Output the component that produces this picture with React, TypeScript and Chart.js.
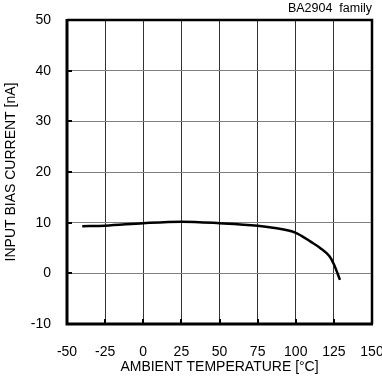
import React, { useEffect, useRef } from "react";
import { Chart, registerables } from "chart.js";

Chart.register(...registerables);

const temperatures = [-40, -25, 0, 25, 50, 75, 85, 100, 110, 116, 122, 125, 129];
const biasCurrent = [9.3, 9.4, 9.9, 10.2, 9.9, 9.4, 9.0, 8.0, 6.2, 5.0, 3.4, 1.8, -1.3];
const xTicks = [-50, -25, 0, 25, 50, 75, 100, 125, 150];
const yTicks = [-10, 0, 10, 20, 30, 40, 50];
const chartLabel = "BA2904  family";
const xTitle = "AMBIENT TEMPERATURE [°C]";
const yTitle = "INPUT BIAS CURRENT [nA]";

const FONT = "'Liberation Sans', Arial, sans-serif";

const framePlugin = {
  id: "frame",
  afterDraw(chart: any) {
    const { ctx, chartArea } = chart;
    const { left, right, top, bottom } = chartArea;
    const xs = chart.scales.x;
    const ys = chart.scales.y;
    ctx.save();
    ctx.strokeStyle = "#000";
    ctx.lineWidth = 2;
    ctx.beginPath();
    yTicks.forEach((v) => {
      const p = Math.round(ys.getPixelForValue(v));
      ctx.moveTo(left, p);
      ctx.lineTo(left + 5, p);
    });
    xTicks.forEach((v) => {
      const p = Math.round(xs.getPixelForValue(v));
      ctx.moveTo(p, bottom);
      ctx.lineTo(p, bottom - 5);
    });
    ctx.stroke();
    ctx.lineWidth = 2.5;
    ctx.beginPath();
    ctx.moveTo(left, top);
    ctx.lineTo(right, top);
    ctx.lineTo(right, bottom);
    ctx.stroke();
    ctx.lineWidth = 3;
    ctx.beginPath();
    ctx.moveTo(left, top - 1);
    ctx.lineTo(left, bottom);
    ctx.lineTo(right + 1, bottom);
    ctx.stroke();
    ctx.restore();
  },
};

export default function App() {
  const ref = useRef<HTMLCanvasElement | null>(null);
  useEffect(() => {
    const canvas = ref.current;
    if (!canvas) return;
    const chart = new Chart(canvas, {
      type: "line",
      data: {
        datasets: [
          {
            data: temperatures.map((t, i) => ({ x: t, y: biasCurrent[i] })),
            borderColor: "#000",
            borderWidth: 2.5,
            pointRadius: 0,
            cubicInterpolationMode: "monotone",
            fill: false,
          },
        ],
      },
      options: {
        animation: false,
        responsive: false,
        maintainAspectRatio: false,
        layout: { padding: { left: 0, right: 10, top: 0, bottom: 0 } },
        plugins: {
          legend: { display: false },
          tooltip: { enabled: false },
          title: {
            display: true,
            text: chartLabel,
            align: "end",
            color: "#000",
            font: { family: FONT, size: 12.5, weight: "normal" },
            padding: { top: 1, bottom: 4 },
          },
        },
        scales: {
          x: {
            type: "linear",
            min: -50,
            max: 150,
            afterBuildTicks: (scale: any) => {
              scale.ticks = xTicks.map((v) => ({ value: v }));
            },
            afterFit: (scale: any) => {
              scale.height = 54;
              scale.paddingLeft = 0;
              scale.paddingRight = 0;
            },
            ticks: {
              color: "#000",
              font: { family: FONT, size: 14 },
              padding: 20,
              maxRotation: 0,
              autoSkip: false,
            },
            grid: { color: "#333", lineWidth: 1, drawTicks: false },
            border: { display: false },
            title: {
              display: true,
              text: xTitle,
              color: "#000",
              font: { family: FONT, size: 14 },
              padding: { top: 0, bottom: 2 },
            },
          },
          y: {
            type: "linear",
            min: -10,
            max: 50,
            afterBuildTicks: (scale: any) => {
              scale.ticks = yTicks.map((v) => ({ value: v }));
            },
            afterFit: (scale: any) => {
              scale.width = 67;
              scale.paddingTop = 0;
              scale.paddingBottom = 0;
            },
            ticks: {
              color: "#000",
              font: { family: FONT, size: 14 },
              padding: 16,
            },
            grid: { color: "#808080", lineWidth: 1, drawTicks: false },
            border: { display: false },
            title: {
              display: true,
              text: yTitle,
              color: "#000",
              font: { family: FONT, size: 14 },
              padding: { top: 3, bottom: 0 },
            },
          },
        },
      },
      plugins: [framePlugin],
    } as any);
    return () => chart.destroy();
  }, []);
  return (
    <div style={{ position: "fixed", left: 0, top: 0, width: 382, height: 378, background: "#fff" }}>
      <canvas ref={ref} width={382} height={378} style={{ width: 382, height: 378, display: "block" }} />
    </div>
  );
}
